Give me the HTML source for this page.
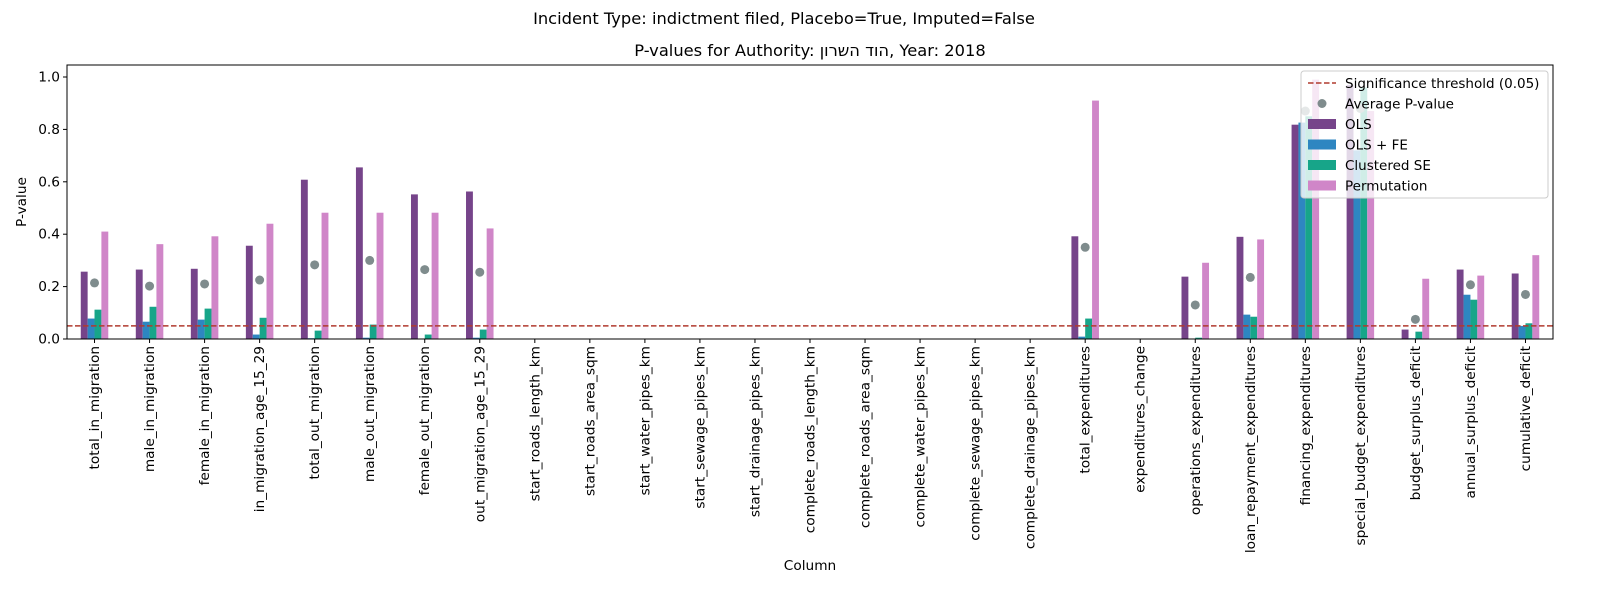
<!DOCTYPE html>
<html><head><meta charset="utf-8"><style>
body{margin:0;background:#fff}
svg{font-family:"DejaVu Sans","Liberation Sans",sans-serif}
.ltr{unicode-bidi:bidi-override;direction:ltr}
</style></head><body>
<svg id="c" width="1600" height="600" xmlns="http://www.w3.org/2000/svg">
<text x="784" y="24" text-anchor="middle" font-size="16.3">Incident Type: indictment filed, Placebo=True, Imputed=False</text>
<text x="810" y="56" text-anchor="middle" font-size="16.3" class="ltr" direction="ltr" unicode-bidi="bidi-override">P-values for Authority: ןורשה דוה, Year: 2018</text>
<text transform="translate(26,202) rotate(-90)" text-anchor="middle" font-size="13.7">P-value</text>
<text x="810" y="570" text-anchor="middle" font-size="13.7">Column</text>
<g id="plot"></g>
</svg>
<script>
const categories=["total_in_migration","male_in_migration","female_in_migration","in_migration_age_15_29","total_out_migration","male_out_migration","female_out_migration","out_migration_age_15_29","start_roads_length_km","start_roads_area_sqm","start_water_pipes_km","start_sewage_pipes_km","start_drainage_pipes_km","complete_roads_length_km","complete_roads_area_sqm","complete_water_pipes_km","complete_sewage_pipes_km","complete_drainage_pipes_km","total_expenditures","expenditures_change","operations_expenditures","loan_repayment_expenditures","financing_expenditures","special_budget_expenditures","budget_surplus_deficit","annual_surplus_deficit","cumulative_deficit"];
const olsVals=[0.257,0.265,0.268,0.356,0.608,0.655,0.552,0.563,0,0,0,0,0,0,0,0,0,0,0.392,0,0.238,0.39,0.818,0.97,0.036,0.265,0.25];
const olsFeVals=[0.078,0.066,0.074,0.017,0.003,0.005,0,0.005,0,0,0,0,0,0,0,0,0,0,0.009,0,0,0.093,0.826,0.72,0.003,0.169,0.05];
const clusteredVals=[0.112,0.123,0.116,0.081,0.032,0.055,0.017,0.036,0,0,0,0,0,0,0,0,0,0,0.078,0,0.005,0.085,0.85,0.96,0.028,0.15,0.06];
const permVals=[0.41,0.362,0.392,0.44,0.482,0.482,0.482,0.422,0,0,0,0,0,0,0,0,0,0,0.91,0,0.291,0.38,0.99,0.87,0.23,0.242,0.32];
const avgVals=[0.214,0.202,0.21,0.225,0.283,0.3,0.265,0.255,null,null,null,null,null,null,null,null,null,null,0.35,null,0.13,0.235,0.87,0.88,0.075,0.207,0.17];
const yTicks=[0,0.2,0.4,0.6,0.8,1.0];
const threshold=0.05;
const seriesNames=["OLS","OLS + FE","Clustered SE","Permutation"];
const colors=["#76448a","#2e86c1","#17a589","#d086c8"];
const X0=67,X1=1553,Y0=65,Y1=339;
const band=(X1-X0)/categories.length;
const xC=i=>X0+band*(i+0.5);
const y=v=>Y1-v*262;
const NS="http://www.w3.org/2000/svg";
const g=document.getElementById('plot');
function mk(t,a,p){const e=document.createElementNS(NS,t);for(const k in a)e.setAttribute(k,a[k]);(p||g).appendChild(e);return e;}
const all=[olsVals,olsFeVals,clusteredVals,permVals];
const w=band*0.5/4;
all.forEach((arr,s)=>{arr.forEach((v,i)=>{if(!v)return;
const r=mk('rect',{x:xC(i)+(s-2)*w,y:y(v),width:w,height:Y1-y(v),fill:colors[s]});

});});
avgVals.forEach((v,i)=>{if(v==null)return;
const c=mk('circle',{cx:xC(i),cy:y(v),r:4.5,fill:'#7f8c8d'});

});
const th=mk('line',{x1:X0,x2:X1,y1:y(threshold),y2:y(threshold),stroke:'#b03a2e','stroke-width':1.5,'stroke-dasharray':'5.5,2.5'});


const fr=mk('rect',{x:X0,y:Y0,width:X1-X0,height:Y1-Y0,fill:'none',stroke:'#000','stroke-width':1});


yTicks.forEach(t=>{mk('line',{x1:X0-4,x2:X0,y1:y(t),y2:y(t),stroke:'#000'});
const tx=mk('text',{x:X0-7,y:y(t)+4.5,'text-anchor':'end','font-size':13.7});tx.textContent=t.toFixed(1);

});
categories.forEach((c,i)=>{mk('line',{x1:xC(i),x2:xC(i),y1:Y1,y2:Y1+4,stroke:'#000'});
const tx=mk('text',{transform:`translate(${xC(i)+4.5},${Y1+7}) rotate(-90)`,'text-anchor':'end','font-size':13.7});tx.textContent=c;

});
// legend
const lg=mk('g',{});


mk('rect',{x:1301,y:71,width:247,height:127,rx:3,fill:'#fff','fill-opacity':0.8,stroke:'#ccc'},lg);
const ly=i=>83+i*20.5;
mk('line',{x1:1308,x2:1336,y1:ly(0),y2:ly(0),stroke:'#b03a2e','stroke-width':1.5,'stroke-dasharray':'5.5,2.5'},lg);
mk('circle',{cx:1322,cy:ly(1),r:4.5,fill:'#7f8c8d'},lg);
colors.forEach((c,s)=>mk('rect',{x:1308,y:ly(s+2)-5,width:28,height:10,fill:c},lg));
["Significance threshold (0.05)","Average P-value"].concat(seriesNames).forEach((n,i)=>{
const t=mk('text',{x:1345,y:ly(i)+5,'font-size':13.5},lg);t.textContent=n;

});
</script>
</body></html>
